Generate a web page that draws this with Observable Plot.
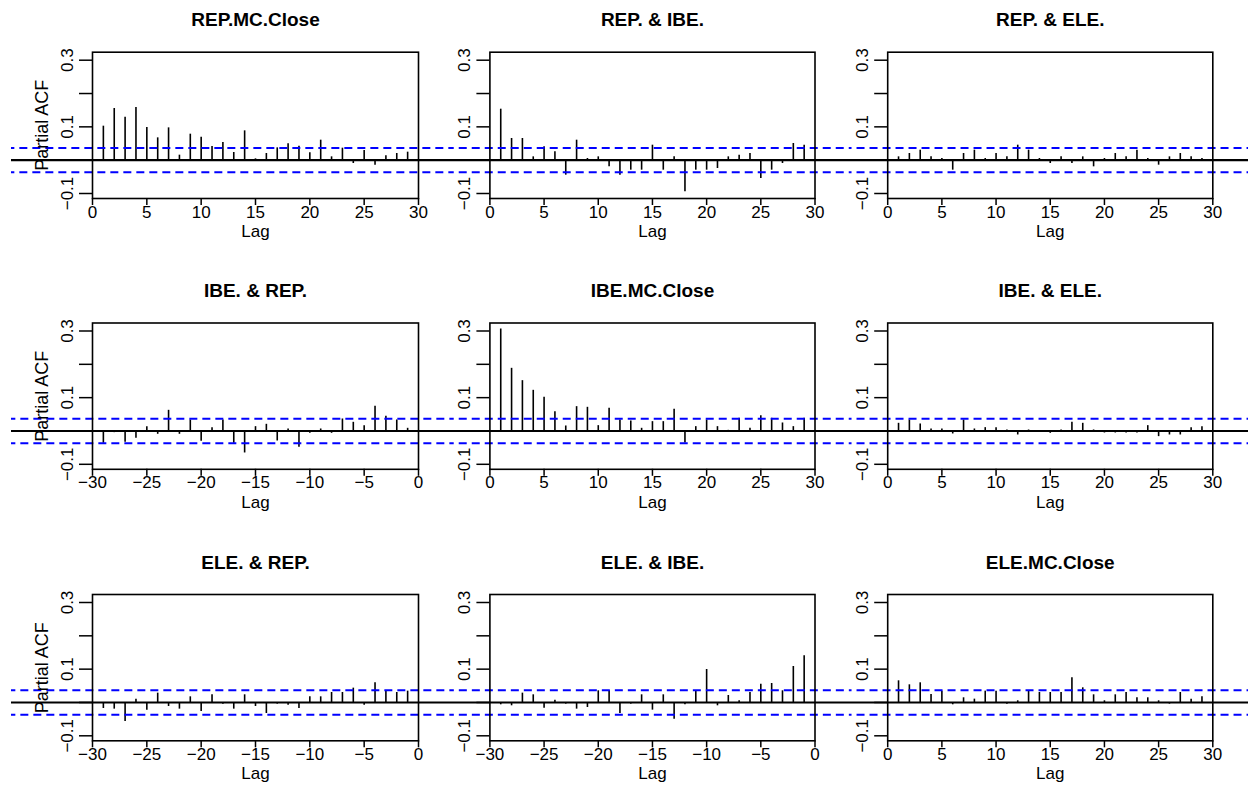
<!DOCTYPE html>
<html><head><meta charset="utf-8">
<script src="https://cdn.jsdelivr.net/npm/d3@7"></script>
<script src="https://cdn.jsdelivr.net/npm/@observablehq/plot@0.6"></script>
<style>
body{margin:0;background:#fff}
#fig{position:relative;width:1257px;height:803px;overflow:hidden;background:#fff}
#fig svg{position:absolute}
</style>
</head><body><div id="fig"></div>
<script>
const lagsPos = [1,2,3,4,5,6,7,8,9,10,11,12,13,14,15,16,17,18,19,20,21,22,23,24,25,26,27,28,29];
const lagsNeg = [-29,-28,-27,-26,-25,-24,-23,-22,-21,-20,-19,-18,-17,-16,-15,-14,-13,-12,-11,-10,-9,-8,-7,-6,-5,-4,-3,-2,-1];

const repRep = [0.102,0.155,0.129,0.158,0.098,0.067,0.097,0.015,0.078,0.069,0.041,0.053,0.023,0.088,0.004,0.020,0.037,0.049,0.042,0.022,0.060,0.010,0.036,-0.010,0.029,-0.015,0.013,0.020,0.024];
const repIbe = [0.153,0.065,0.065,0.010,0.040,0.025,-0.045,0.060,0.005,0.010,-0.020,-0.045,-0.030,-0.030,0.045,-0.030,0.010,-0.095,-0.030,-0.030,-0.025,0.010,0.015,0.020,-0.055,-0.030,-0.010,0.050,0.045];
const repEle = [0.010,0.020,0.030,0.010,0.005,-0.030,0.020,0.030,0.005,0.020,0.010,0.045,0.030,0.005,-0.010,0.010,-0.010,0.010,-0.020,0.005,0.020,0.010,0.030,0.005,-0.015,0.010,0.020,0.010,0.005];
const ibeRep = [-0.037,-0.005,-0.034,-0.022,0.013,-0.010,0.062,-0.010,0.033,-0.031,0.010,0.033,-0.037,-0.066,0.013,0.020,-0.030,0.006,-0.049,-0.007,0.006,-0.007,0.036,0.026,0.016,0.074,0.044,0.033,0.008];
const ibeIbe = [0.306,0.188,0.151,0.122,0.101,0.058,0.015,0.073,0.071,0.016,0.068,0.033,0.030,0.008,0.028,0.028,0.065,-0.036,0.013,0.033,0.013,0.002,0.038,0.008,0.046,0.038,0.024,0.013,0.038];
const ibeEle = [0.023,0.033,0.021,0.006,0.006,-0.009,0.033,0.006,0.010,0.010,0.003,-0.012,0.003,-0.004,-0.007,0.003,0.026,0.023,0.003,-0.006,-0.006,-0.006,-0.006,0.016,-0.017,-0.012,-0.012,0.010,0.013];
const eleRep = [-0.018,-0.020,-0.057,0.010,-0.023,0.028,-0.012,-0.020,0.017,-0.027,0.023,-0.005,-0.020,0.023,-0.012,-0.033,-0.005,-0.008,-0.018,0.017,0.017,0.030,0.030,0.043,-0.008,0.059,0.034,0.030,0.034];
const eleIbe = [-0.007,-0.010,0.028,0.023,-0.017,0.007,-0.005,-0.020,-0.015,0.035,0.035,-0.033,-0.005,0.023,-0.023,0.023,-0.050,-0.007,0.033,0.099,-0.010,0.021,0.005,0.030,0.055,0.057,0.035,0.108,0.140];
const eleEle = [0.065,0.053,0.059,0.024,0.034,-0.007,0.014,0.010,0.034,0.034,-0.005,0.005,0.034,0.030,0.030,0.030,0.074,0.044,0.023,0.005,0.023,0.030,0.014,0.014,0.005,-0.005,0.030,0.010,0.017];

const titles = ["REP.MC.Close","REP. & IBE.","REP. & ELE.","IBE. & REP.","IBE.MC.Close","IBE. & ELE.","ELE. & REP.","ELE. & IBE.","ELE.MC.Close"];
const series = [repRep, repIbe, repEle, ibeRep, ibeIbe, ibeEle, eleRep, eleIbe, eleEle];

const ciBound = 0.0365;
const yTicks = [-0.1, 0, 0.1, 0.2, 0.3];
const yTickLabels = ["\u22120.1", "", "0.1", "", "0.3"];
const xTicksPos = [0, 5, 10, 15, 20, 25, 30];
const xTickLabelsPos = ["0", "5", "10", "15", "20", "25", "30"];
const xTicksNeg = [-30, -25, -20, -15, -10, -5, 0];
const xTickLabelsNeg = ["\u221230", "\u221225", "\u221220", "\u221215", "\u221210", "\u22125", "0"];
const yLabel = "Partial ACF";
const xLabel = "Lag";

// layout (pixels)
const colLeft = [11, 453, 850];
const colWidth = [442, 397, 398];
const colML = [81, 36.4, 37.2];
const colMR = [35, 35.5, 35.7];
const rowTop = [0, 268, 539];
const rowHeight = [268, 271, 264];
const rowMT = [51.7, 54.5, 55];
const panelH = 146.3;

const font = "'Liberation Sans', Arial, Helvetica, sans-serif";
const fig = document.getElementById("fig");

for (let r = 0; r < 3; r++) {
  for (let c = 0; c < 3; c++) {
    const k = r * 3 + c;
    const neg = r > c;
    const lags = neg ? lagsNeg : lagsPos;
    const data = lags.map((lag, i) => ({lag, value: series[k][i]}));
    const xTicks = neg ? xTicksNeg : xTicksPos;
    const xLabs = neg ? xTickLabelsNeg : xTickLabelsPos;
    const marks = [
      Plot.ruleX(data, {x: "lag", y1: 0, y2: "value", stroke: "black", strokeWidth: 1.6}),
      Plot.ruleY([0], {x1: -100, x2: 100, stroke: "black", strokeWidth: 2.2}),
      Plot.ruleY([ciBound, -ciBound], {x1: -100, x2: 100, stroke: "#0000ff", strokeWidth: 2, strokeDasharray: "8,5"}),
      Plot.frame({stroke: "black", strokeWidth: 1.6}),
      Plot.axisX({ticks: xTicks, tickFormat: d => xLabs[xTicks.indexOf(d)], tickSize: 7, tickPadding: 0, fontSize: 17, strokeWidth: 1.5, label: null}),
      Plot.axisY({ticks: yTicks, tickFormat: d => yTickLabels[yTicks.indexOf(d)], tickSize: 13, tickPadding: 7, tickRotate: -90, fontSize: 17, strokeWidth: 1.5, label: null}),
      Plot.text([xLabel], {frameAnchor: "bottom", lineAnchor: "middle", textAnchor: "middle", dy: 33, fontSize: 17}),
      Plot.text([titles[k]], {frameAnchor: "top", lineAnchor: "middle", textAnchor: "middle", dy: -32, fontSize: 19, fontWeight: "bold"})
    ];
    if (c === 0) {
      marks.push(Plot.text([yLabel], {frameAnchor: "left", textAnchor: "middle", lineAnchor: "middle", dx: -50, rotate: -90, fontSize: 18}));
    }
    const svg = Plot.plot({
      width: colWidth[c],
      height: rowHeight[r],
      marginLeft: colML[c],
      marginRight: colMR[c],
      marginTop: rowMT[r],
      marginBottom: rowHeight[r] - rowMT[r] - panelH,
      style: {fontFamily: font, background: "transparent", overflow: "hidden", color: "black"},
      x: {domain: neg ? [-30, 0] : [0, 30]},
      y: {domain: [-0.115, 0.324]},
      marks
    });
    svg.style.left = colLeft[c] + "px";
    svg.style.top = rowTop[r] + "px";
    svg.style.position = "absolute";
    fig.appendChild(svg);
  }
}
</script>
</body></html>
